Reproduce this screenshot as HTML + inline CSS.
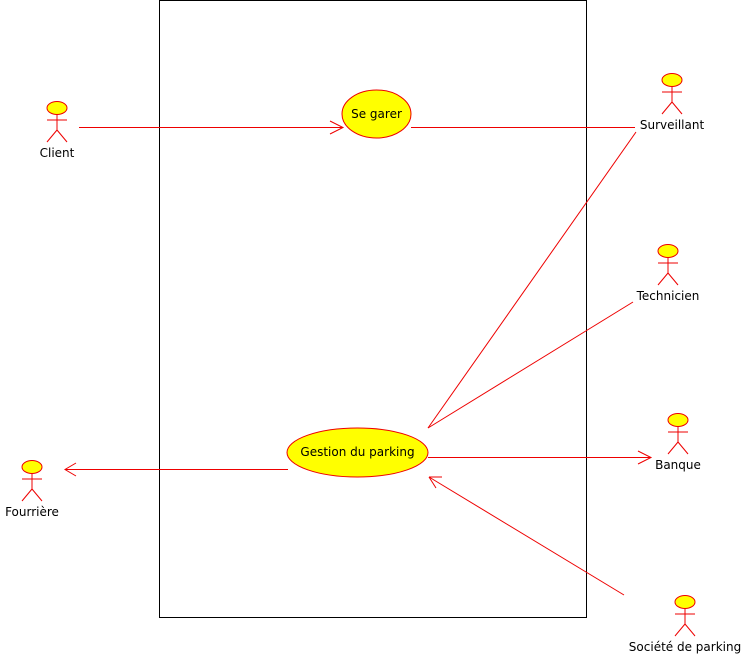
<!DOCTYPE html>
<html><head><meta charset="utf-8"><style>
html,body{margin:0;padding:0;background:#fff;}
svg text{font-family:"DejaVu Sans","Liberation Sans",sans-serif;font-size:12px;fill:#000;}
</style></head><body>
<svg width="747" height="654" xmlns="http://www.w3.org/2000/svg">
<defs>
<g id="actor" stroke="#e00" stroke-width="1" fill="none">
<ellipse cx="0" cy="0" rx="10" ry="6.5" fill="#ff0"/>
<line x1="-10" y1="12" x2="10" y2="12"/>
<line x1="0" y1="6.5" x2="0" y2="22"/>
<line x1="0" y1="22" x2="-10" y2="34"/>
<line x1="0" y1="22" x2="10" y2="34"/>
</g>
</defs>
<rect x="159.5" y="0.5" width="427" height="617" fill="none" stroke="#000" stroke-width="1"/>
<g stroke="#e00" stroke-width="1" fill="none">
<line x1="79" y1="127.5" x2="343" y2="127.5"/>
<polyline points="330,121 343,127.5 330,134"/>
<line x1="411" y1="127.5" x2="635" y2="127.5"/>
<line x1="636" y1="132" x2="428" y2="428"/>
<line x1="633" y1="302" x2="428" y2="428"/>
<line x1="428" y1="457.5" x2="651" y2="457.5"/>
<polyline points="638,451 651,457.5 638,464"/>
<line x1="288" y1="469.5" x2="65" y2="469.5"/>
<polyline points="76,463 65,469.5 76,476"/>
<line x1="624" y1="595" x2="429" y2="477"/>
<line x1="429" y1="477" x2="442" y2="477"/>
<line x1="429" y1="477" x2="436" y2="488"/>
</g>
<ellipse cx="376.5" cy="114" rx="34.5" ry="24" fill="#ff0" stroke="#e00"/>
<text x="376.5" y="118" text-anchor="middle">Se garer</text>
<ellipse cx="357.5" cy="452.5" rx="70.5" ry="24.5" fill="#ff0" stroke="#e00"/>
<text x="357.5" y="456" text-anchor="middle">Gestion du parking</text>
<use href="#actor" x="57" y="108"/><text x="57" y="157" text-anchor="middle">Client</text>
<use href="#actor" x="672" y="80"/><text x="672" y="129" text-anchor="middle">Surveillant</text>
<use href="#actor" x="668" y="251"/><text x="668" y="300" text-anchor="middle">Technicien</text>
<use href="#actor" x="678" y="420"/><text x="678" y="469" text-anchor="middle">Banque</text>
<use href="#actor" x="32" y="467"/><text x="32" y="516" text-anchor="middle">Fourrière</text>
<use href="#actor" x="685" y="602"/><text x="685" y="651" text-anchor="middle">Société de parking</text>
</svg>
</body></html>
